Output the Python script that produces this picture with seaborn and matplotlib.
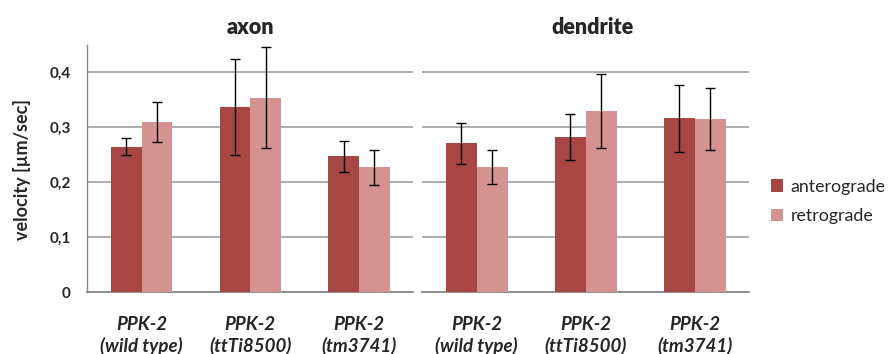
import matplotlib
matplotlib.use("Agg")
import matplotlib.pyplot as plt
import seaborn as sns
import pandas as pd
from matplotlib.patches import Patch

# ---- data -------------------------------------------------------------
genotypes = ["PPK-2\n(wild type)", "PPK-2\n(ttTi8500)", "PPK-2\n(tm3741)"]
directions = ["anterograde", "retrograde"]
panels = ["axon", "dendrite"]

axon_antero = [0.265, 0.337, 0.247]
axon_antero_err = [0.016, 0.088, 0.028]
axon_retro = [0.310, 0.354, 0.227]
axon_retro_err = [0.037, 0.092, 0.032]

dendrite_antero = [0.271, 0.282, 0.317]
dendrite_antero_err = [0.037, 0.042, 0.061]
dendrite_retro = [0.227, 0.330, 0.315]
dendrite_retro_err = [0.031, 0.068, 0.057]

ytick_values = [0, 0.1, 0.2, 0.3, 0.4]
ytick_labels = ["0", "0,1", "0,2", "0,3", "0,4"]

# ---- long table -------------------------------------------------------
series = {
    ("axon", "anterograde"): (axon_antero, axon_antero_err),
    ("axon", "retrograde"): (axon_retro, axon_retro_err),
    ("dendrite", "anterograde"): (dendrite_antero, dendrite_antero_err),
    ("dendrite", "retrograde"): (dendrite_retro, dendrite_retro_err),
}
rows = []
for (panel, direction), (vals, errs) in series.items():
    for g, v, e in zip(genotypes, vals, errs):
        rows.append({"panel": panel, "genotype": g, "direction": direction,
                     "velocity": v, "err": e})
df = pd.DataFrame(rows)

# ---- style ------------------------------------------------------------
sns.set_theme(style="white")
plt.rcParams["font.family"] = ["Lato", "DejaVu Sans"]

colors = {"anterograde": "#A84644", "retrograde": "#D49391"}
grid_color = "#969696"
spine_color = "#8a8a8a"

fig = plt.figure(figsize=(8.9, 3.54), dpi=100)
ax_axon = fig.add_axes([0.0981, 0.1751, 0.3663, 0.6977])
ax_dend = fig.add_axes([0.4745, 0.1751, 0.3674, 0.6977])

for ax, panel in zip([ax_axon, ax_dend], panels):
    sub = df[df["panel"] == panel]
    sns.barplot(data=sub, x="genotype", y="velocity", hue="direction",
                order=genotypes, hue_order=directions, palette=colors,
                width=0.565, errorbar=None, saturation=1, legend=False,
                linewidth=0, ax=ax, zorder=3)

    # error bars at the centre of every bar
    for container, direction in zip(ax.containers, directions):
        part = sub[sub["direction"] == direction].set_index("genotype").loc[genotypes]
        xs = [b.get_x() + b.get_width() / 2 for b in container]
        ax.errorbar(xs, part["velocity"], yerr=part["err"], fmt="none",
                    ecolor="black", elinewidth=1.0, capsize=3.5,
                    capthick=1.0, zorder=4)

    ax.set_xlim(-0.5, 2.5)
    ax.set_ylim(0, 0.45)
    ax.set_yticks(ytick_values)
    ax.grid(axis="y", color=grid_color, linewidth=1.1, zorder=0)
    ax.grid(axis="x", visible=False)
    ax.set_axisbelow(True)
    ax.set_xlabel("")
    ax.set_ylabel("")

    ax.set_xticks(range(len(genotypes)))
    ax.set_xticklabels(genotypes, fontsize=13.5, fontweight="bold",
                       fontstyle="italic", linespacing=1.3)
    ax.tick_params(axis="x", which="major", length=0, pad=17)
    ax.tick_params(axis="x", which="minor", length=5, width=1,
                   color=spine_color, direction="out")

    for s in ["top", "right"]:
        ax.spines[s].set_visible(False)
    ax.spines["bottom"].set_color(spine_color)
    ax.spines["bottom"].set_linewidth(1.3)

ax_axon.set_xticks([-0.5, 0.5, 1.5, 2.5], minor=True)
ax_dend.set_xticks([0.5, 1.5, 2.5], minor=True)

ax_axon.set_yticklabels(ytick_labels, fontsize=11, fontweight="bold")
ax_axon.tick_params(axis="y", length=5, width=1, color=spine_color,
                    direction="out", pad=7)
ax_axon.spines["left"].set_color(spine_color)
ax_axon.spines["left"].set_linewidth(1.0)

ax_dend.spines["left"].set_visible(False)
ax_dend.tick_params(axis="y", length=0, labelleft=False)

ax_axon.set_title("axon", fontsize=15.5, fontweight="heavy", pad=8)
ax_dend.set_title("dendrite", fontsize=15.5, fontweight="heavy", pad=8, x=0.52)

fig.text(22 / 890, 0.521, "velocity [µm/sec]", rotation=90, fontsize=13,
         fontweight="bold", ha="center", va="center")

handles = [Patch(facecolor=colors[d], edgecolor="none") for d in directions]
fig.legend(handles, directions, loc="center left",
           bbox_to_anchor=(0.866, 0.431), frameon=False, fontsize=12.8,
           handlelength=0.68, handleheight=0.68, handletextpad=0.42,
           labelspacing=0.75, borderpad=0, borderaxespad=0)

fig.savefig("out.png", dpi=100)
